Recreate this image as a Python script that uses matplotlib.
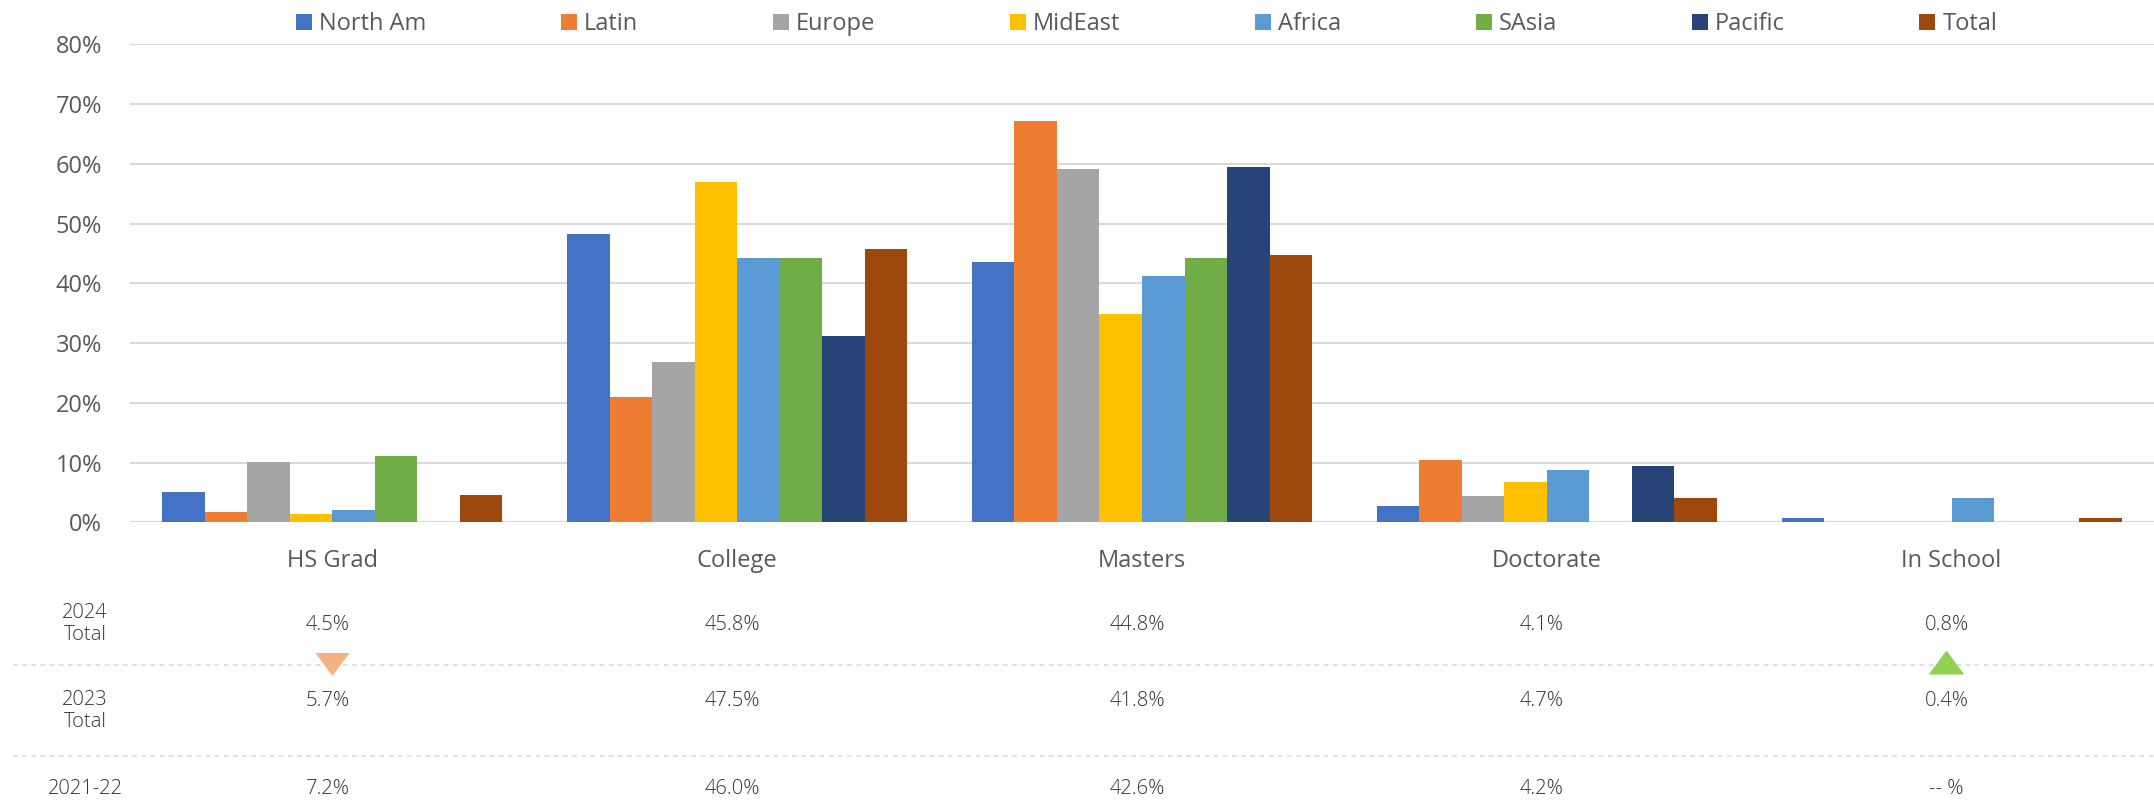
import matplotlib
matplotlib.use('Agg')
import matplotlib.pyplot as plt
import numpy as np
from matplotlib import transforms
from matplotlib.lines import Line2D
from matplotlib.patches import Patch
from matplotlib.path import Path

plt.rcParams['font.family'] = ['Open Sans', 'DejaVu Sans']

# ---- data ----
categories = ['HS Grad', 'College', 'Masters', 'Doctorate', 'In School']
regions = ['North Am', 'Latin', 'Europe', 'MidEast', 'Africa', 'SAsia', 'Pacific', 'Total']

north_am = [5.1, 48.3, 43.6, 2.7, 0.8]
latin = [1.7, 20.9, 67.1, 10.5, 0.0]
europe = [10.1, 26.9, 59.1, 4.4, 0.0]
mideast = [1.4, 57.0, 34.9, 6.8, 0.0]
africa = [2.1, 44.3, 41.3, 8.8, 4.1]
sasia = [11.1, 44.3, 44.3, 0.0, 0.0]
pacific = [0.0, 31.2, 59.4, 9.5, 0.0]
total = [4.5, 45.8, 44.8, 4.1, 0.8]

row_labels = ['2024\nTotal', '2023\nTotal', '2021-22']
total_2024 = ['4.5%', '45.8%', '44.8%', '4.1%', '0.8%']
total_2023 = ['5.7%', '47.5%', '41.8%', '4.7%', '0.4%']
total_2122 = ['7.2%', '46.0%', '42.6%', '4.2%', '-- %']
trend = ['down', None, None, None, 'up']

colors = ['#4472c4', '#ed7d31', '#a5a5a5', '#ffc000',
          '#5b9bd5', '#70ad47', '#264478', '#9e480e']
series = [north_am, latin, europe, mideast, africa, sasia, pacific, total]

W, H = 2154, 805
fig = plt.figure(figsize=(W / 100, H / 100), dpi=100)
ax = fig.add_axes([130 / W, 1 - 522.3 / H, 2024 / W, 478 / H])

x = np.arange(len(categories))
bw = 0.105
for i, (vals, c) in enumerate(zip(series, colors)):
    ax.bar(x + (i - 3.5) * bw, vals, bw, color=c, zorder=3)

ax.set_xlim(-0.5, len(categories) - 0.5)
ax.set_ylim(0, 80)
ax.set_yticks(range(0, 81, 10))
ax.set_yticklabels(['{}%'.format(v) for v in range(0, 81, 10)])
ax.set_xticks(x)
ax.set_xticklabels(categories)
ax.tick_params(axis='y', length=0, pad=20, labelsize=17, labelcolor='#595959')
ax.tick_params(axis='x', length=0, pad=19.5, labelsize=17, labelcolor='#595959')
ax.grid(axis='y', color='#d9d9d9', linewidth=1.5, zorder=0)
for s in ax.spines.values():
    s.set_visible(False)
ax.axhline(0, color='#d9d9d9', linewidth=2.2, zorder=2)

# legend across the top
handles = [Patch(facecolor=c, edgecolor='none') for c in colors]
fig.legend(handles, regions, ncol=8, loc='center left',
           bbox_to_anchor=(296 / W, 1 - 24 / H), frameon=False,
           handlelength=0.68, handleheight=0.68, handletextpad=0.3,
           columnspacing=5.7, borderpad=0, borderaxespad=0,
           fontsize=17, labelcolor='#595959')

# summary table under the chart
tr = transforms.blended_transform_factory(ax.transData, fig.transFigure)
row_y = [625, 701, 789]
label_y = [624, 711, 789]
for row, ry, ly, lab in zip([total_2024, total_2023, total_2122], row_y, label_y, row_labels):
    fig.text(85 / W, 1 - ly / H, lab, ha='center', va='center', fontsize=14.5,
             color='#333333', fontweight='light', linespacing=1.12)
    for xi, v in zip(x, row):
        ax.text(xi - 0.012, 1 - ry / H, v, transform=tr, ha='center', va='center',
                fontsize=14.5, color='#333333', fontweight='light')

for ly in [665, 756]:
    fig.add_artist(Line2D([13 / W, 1], [1 - ly / H, 1 - ly / H], color='#d9d9d9',
                          linewidth=1.1, dashes=(3, 3), zorder=-1))

down = Path([(-1, 0.676), (1, 0.676), (0, -0.676), (-1, 0.676)])
up = Path([(-1, -0.676), (1, -0.676), (0, 0.676), (-1, -0.676)])
for xi, t in zip(x, trend):
    if t == 'down':
        ax.scatter([xi], [1 - 663.5 / H], marker=down, s=600, color='#f4b183',
                   transform=tr, clip_on=False, linewidths=0, zorder=5)
    elif t == 'up':
        ax.scatter([xi - 0.015], [1 - 661.5 / H], marker=up, s=660, color='#92d050',
                   transform=tr, clip_on=False, linewidths=0, zorder=5)

fig.savefig('out.png', dpi=100)
